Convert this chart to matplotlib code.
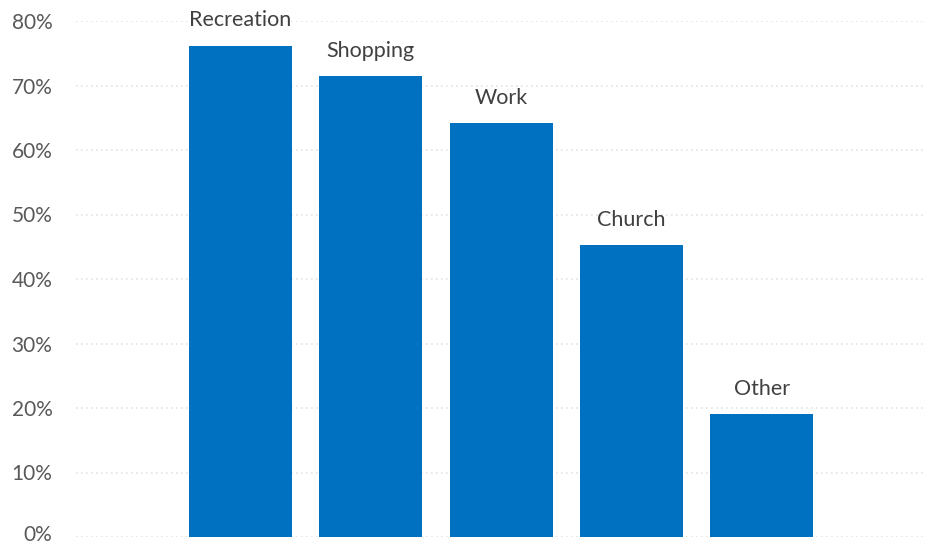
import matplotlib
matplotlib.use("Agg")
import matplotlib.pyplot as plt
import matplotlib.transforms as mtransforms
from matplotlib.ticker import PercentFormatter

categories = ["Recreation", "Shopping", "Work", "Church", "Other"]
values = [0.762, 0.714, 0.642, 0.452, 0.190]
yticks = [0, 0.1, 0.2, 0.3, 0.4, 0.5, 0.6, 0.7, 0.8]

plt.rcParams['font.family'] = ['Lato', 'DejaVu Sans']

fig = plt.figure(figsize=(9.27, 5.47), dpi=100)
W, H = 927, 547
ax = fig.add_axes([76 / W, 10 / H, (925 - 76) / W, (537 - 21) / H])

x = list(range(len(categories)))
ax.bar(x, values, width=0.79, color="#0070C0", zorder=2)
for xi, v, c in zip(x, values, categories):
    ax.annotate(c, (xi, v), xytext=(0, 11), textcoords="offset points",
                ha="center", va="bottom", fontsize=15.5, color="#404040",
                annotation_clip=False)

ax.set_ylim(0, 0.8)
ax.set_xlim(-1.26, 4 + 1.25)
ax.set_yticks(yticks)
ax.yaxis.set_major_formatter(PercentFormatter(1.0, decimals=0))
ax.tick_params(axis="y", length=0, pad=17, labelsize=15, labelcolor="#595959")
ax.set_xticks([])
for s in ax.spines.values():
    s.set_visible(False)
ax.grid(axis="y", color="#e3e3e3", linestyle=(0, (1, 2)), linewidth=1.2, zorder=0)
ax.set_axisbelow(True)

# nudge the 0% label up slightly so it stays inside the canvas
lbl0 = ax.get_yticklabels()[0]
lbl0.set_transform(lbl0.get_transform() +
                   mtransforms.ScaledTranslation(0, 3 / 72, fig.dpi_scale_trans))

fig.savefig("out.png", dpi=100)
